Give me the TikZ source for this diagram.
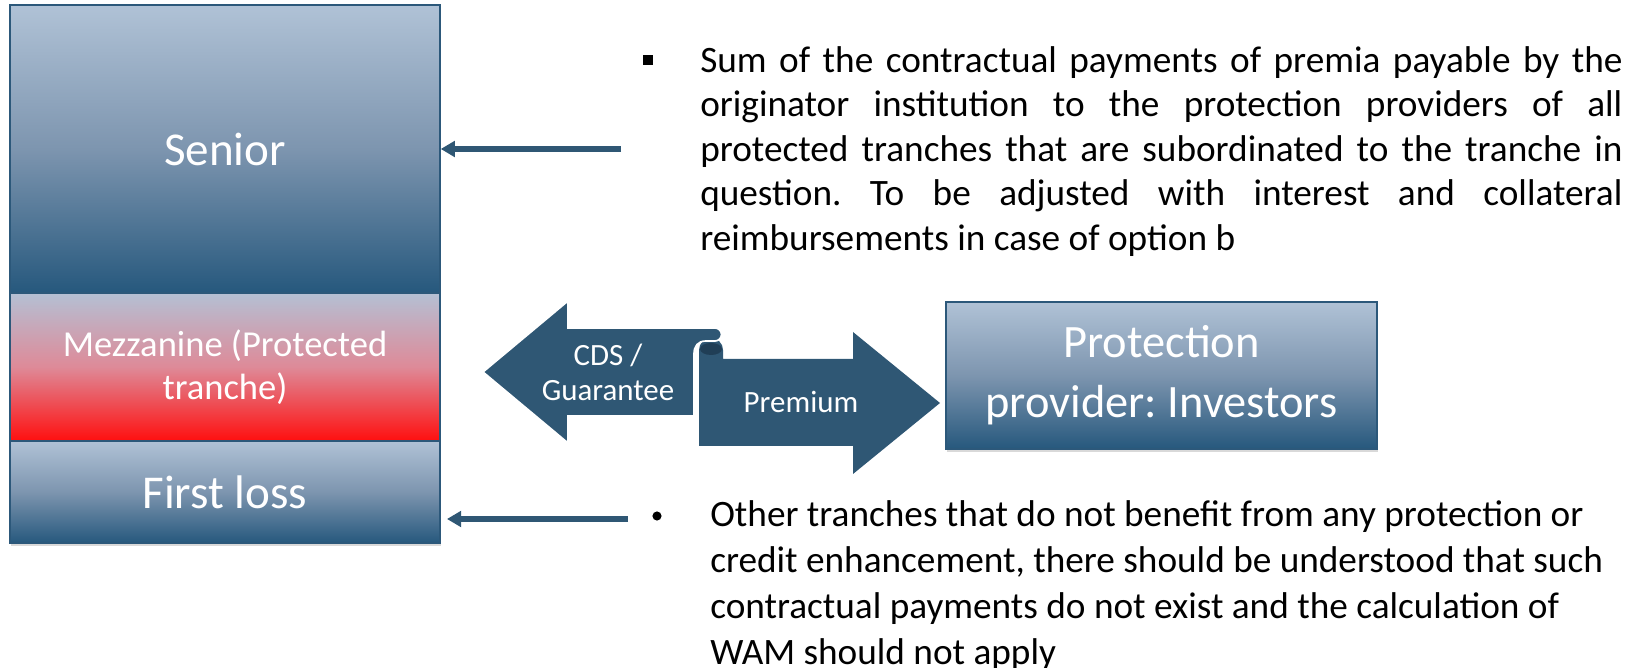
\documentclass[tikz,border=0pt]{standalone}
\usepackage{fontspec}
\setmainfont{Carlito}
\usepackage{tikz}
\usetikzlibrary{arrows.meta,shadows}
\definecolor{trancheblue}{RGB}{38,88,125}
\definecolor{tranchelight}{RGB}{176,194,214}
\definecolor{tranchemid}{RGB}{125,149,175}
\definecolor{tranchegrey}{RGB}{180,192,212}
\definecolor{tranchepink}{RGB}{222,138,152}
\definecolor{tranchered}{RGB}{255,15,15}
\definecolor{edgeblue}{RGB}{44,88,122}
\definecolor{flowblue}{RGB}{47,87,116}
\definecolor{flowdark}{RGB}{32,62,86}
\newcommand{\fullline}[1]{\makebox[23.05cm][s]{#1}}
\frenchspacing

\begin{document}
\begin{tikzpicture}[x=0.025cm,y=-0.025cm]

%
% Styles
%
\tikzstyle{tranche} = [rectangle,draw=edgeblue,line width=1pt,inner sep=0pt,text=white,
  minimum width=10.75cm,top color=tranchelight,bottom color=trancheblue,middle color=tranchemid,
  drop shadow={opacity=0.3,shadow xshift=1pt,shadow yshift=-2pt}]
\tikzstyle{flow} = [fill=flowblue,draw=white,line width=1.2pt]
\tikzstyle{flowtext} = [text=white,align=center,font=\fontsize{22}{25}\selectfont]
\tikzstyle{pointer} = [-{Triangle[length=10pt,width=11pt]},draw=flowblue,line width=3.7pt]
\tikzstyle{note} = [anchor=north west,inner sep=0pt,align=left]

\useasboundingbox (0,0) rectangle (1640,668);

% tranches
\node[tranche,minimum height=7.2cm,font=\fontsize{33.5}{40}\selectfont] (senior) at (225,149) {Senior};
\node[tranche,minimum height=3.7cm,top color=tranchegrey,bottom color=tranchered,middle color=tranchepink,
  align=center,font=\fontsize{26}{31}\selectfont] (mezz) at (225,367) {Mezzanine (Protected\\tranche)};
\node[tranche,minimum height=2.55cm,font=\fontsize{33.5}{40}\selectfont] (first) at (225,492) {First loss};

\node[tranche,minimum width=10.775cm,minimum height=3.675cm,align=center,
  font=\fontsize{33}{42.5}\selectfont] (provider) at (1161.5,375.5) {Protection\\provider: Investors};

% CDS / premium arrows
\path[flow,draw=none] (699,446) -- (699,350) arc[start angle=180,end angle=360,radius=12]
  -- (723,359) -- (853,359) -- (853,332) -- (940,403) -- (853,474) -- (853,446) -- cycle;
\fill[flowdark] (711,349) ellipse [x radius=11,y radius=6];
\path[flow] (483,372) -- (568,301) -- (568,328) -- (715,328) arc[start angle=-90,end angle=90,radius=6.5]
  -- (706,341) .. controls (698,341) and (694,346) .. (694,354) -- (694,416) -- (568,416) -- (568,443) -- cycle;
\node[flowtext] (cds) at (608,372) {CDS /\\Guarantee};
\node[flowtext] (premium) at (801,402) {Premium};

% notes
\node[inner sep=0pt] (square) at (648,60) {\rule{7pt}{7pt}};
\node[note,font=\fontsize{26.5}{31.7}\selectfont] (upper) at (700,46) {%
  \fullline{Sum of the contractual payments of premia payable by the}\\
  \fullline{originator institution to the protection providers of all}\\
  \fullline{protected tranches that are subordinated to the tranche in}\\
  \fullline{question. To be adjusted with interest and collateral}\\
  reimbursements in case of option b};

\node[circle,fill=black,inner sep=0pt,minimum size=6.5pt] (dot) at (657,516) {};
\node[note,font=\fontsize{26.5}{32.7}\selectfont] (lower) at (710,500) {%
  Other tranches that do not benefit from any protection or\\
  credit enhancement, there should be understood that such\\
  contractual payments do not exist and the calculation of\\
  WAM should not apply};

\coordinate (upperfrom) at (621,149);
\coordinate (lowerfrom) at (628,519);
\coordinate (lowerto) at (447,519);
\draw[pointer] (upperfrom) -- (senior.east);
\draw[pointer] (lowerfrom) -- (lowerto);

\end{tikzpicture}
\end{document}
